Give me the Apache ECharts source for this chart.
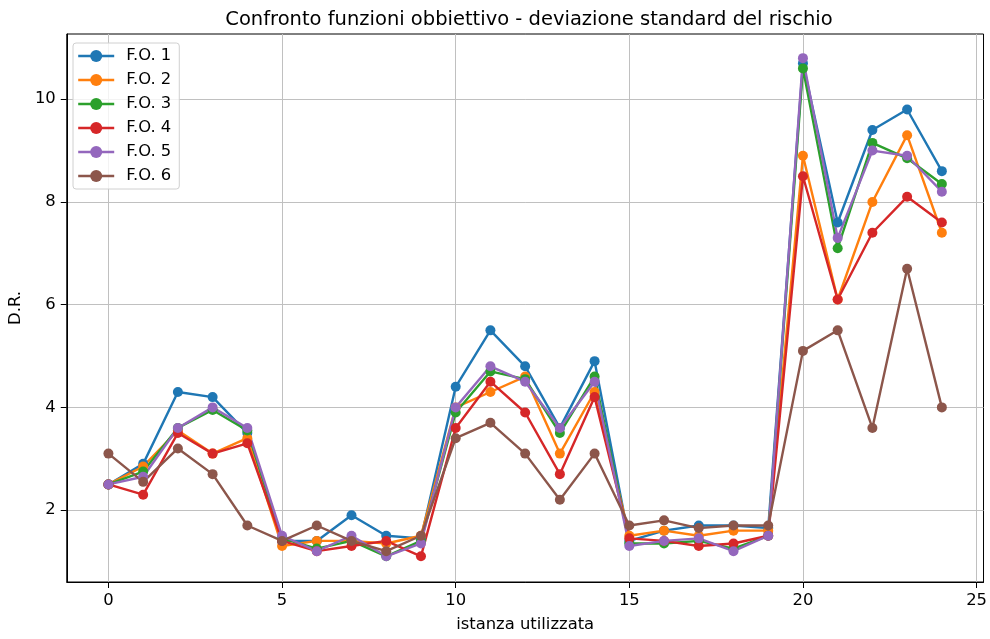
<!DOCTYPE html>
<html>
<head>
<meta charset="utf-8">
<script src="https://cdn.jsdelivr.net/npm/echarts@6/dist/echarts.min.js"></script>
<style>html,body{margin:0;padding:0;background:#fff;}#c{width:990px;height:639px;}</style>
</head>
<body>
<div id="c"></div>
<script>
const instances = [0,1,2,3,4,5,6,7,8,9,10,11,12,13,14,15,16,17,18,19,20,21,22,23,24];
const seriesNames = ['F.O. 1','F.O. 2','F.O. 3','F.O. 4','F.O. 5','F.O. 6'];
const fo1 = [2.5, 2.9, 4.3, 4.2, 3.5, 1.4, 1.4, 1.9, 1.5, 1.45, 4.4, 5.5, 4.8, 3.6, 4.9, 1.4, 1.6, 1.7, 1.7, 1.65, 10.7, 7.6, 9.4, 9.8, 8.6];
const fo2 = [2.5, 2.85, 3.55, 3.1, 3.4, 1.3, 1.4, 1.4, 1.35, 1.5, 4.0, 4.3, 4.6, 3.1, 4.3, 1.5, 1.6, 1.5, 1.6, 1.6, 8.9, 6.1, 8.0, 9.3, 7.4];
const fo3 = [2.5, 2.75, 3.6, 3.95, 3.55, 1.45, 1.25, 1.4, 1.1, 1.4, 3.9, 4.7, 4.55, 3.5, 4.6, 1.35, 1.35, 1.4, 1.25, 1.5, 10.6, 7.1, 9.15, 8.85, 8.35];
const fo4 = [2.5, 2.3, 3.5, 3.1, 3.3, 1.4, 1.2, 1.3, 1.4, 1.1, 3.6, 4.5, 3.9, 2.7, 4.2, 1.45, 1.4, 1.3, 1.35, 1.5, 8.5, 6.1, 7.4, 8.1, 7.6];
const fo5 = [2.5, 2.65, 3.6, 4.0, 3.6, 1.5, 1.2, 1.5, 1.1, 1.35, 4.0, 4.8, 4.5, 3.6, 4.5, 1.3, 1.4, 1.45, 1.2, 1.5, 10.8, 7.3, 9.0, 8.9, 8.2];
const fo6 = [3.1, 2.55, 3.2, 2.7, 1.7, 1.4, 1.7, 1.4, 1.2, 1.5, 3.4, 3.7, 3.1, 2.2, 3.1, 1.7, 1.8, 1.65, 1.7, 1.7, 5.1, 5.5, 3.6, 6.7, 4.0];
const xTicks = [0,5,10,15,20,25];
const yTicks = [2,4,6,8,10];
const colors = ['#1f77b4','#ff7f0e','#2ca02c','#d62728','#9467bd','#8c564b'];
const allSeries = [fo1, fo2, fo3, fo4, fo5, fo6];

const FONT = 'DejaVu Sans';
const FS = 16.4;
const chart = echarts.init(document.getElementById('c'), null, {renderer: 'canvas'});
chart.setOption({
  animation: false,
  backgroundColor: '#fff',
  color: colors,
  title: {
    text: 'Confronto funzioni obbiettivo - deviazione standard del rischio',
    left: 524, textAlign: 'center', top: 5,
    textStyle: {fontFamily: FONT, fontSize: 19.5, fontWeight: 'normal', color: '#000'}
  },
  legend: {
    orient: 'vertical', left: 73, top: 43,
    padding: [5, 8, 5, 4],
    itemWidth: 36, itemHeight: 15, itemGap: 8,
    backgroundColor: 'rgba(255,255,255,0.8)',
    borderColor: '#d0d0d0', borderWidth: 1, borderRadius: 3,
    lineStyle: {width: 2.4},
    textStyle: {fontFamily: FONT, fontSize: FS, color: '#000', padding: [0,0,0,7]},
    data: seriesNames
  },
  grid: {left: 66, right: 6, top: 34, bottom: 57, show: true, borderColor: '#000', borderWidth: 1, backgroundColor: 'transparent'},
  xAxis: {
    type: 'value', min: -1.2, max: 25.2,
    name: 'istanza utilizzata', nameLocation: 'middle', nameGap: 35,
    nameTextStyle: {fontFamily: FONT, fontSize: FS, color: '#000'},
    axisLine: {show: true, onZero: false, lineStyle: {color: '#000', width: 1}},
    axisTick: {show: true, length: 6, inside: false, customValues: xTicks, lineStyle: {color: '#000'}},
    axisLabel: {customValues: xTicks, margin: 11, fontFamily: FONT, fontSize: FS, color: '#000'},
    splitLine: {show: true, lineStyle: {color: '#c0c0c0', width: 1}}
  },
  yAxis: {
    type: 'value', min: 0.6, max: 11.27,
    name: 'D.R.', nameLocation: 'middle', nameGap: 41, nameRotate: 90,
    nameTextStyle: {fontFamily: FONT, fontSize: FS, color: '#000'},
    axisLine: {show: true, onZero: false, lineStyle: {color: '#000', width: 1}},
    axisTick: {show: true, length: 6, inside: false, customValues: yTicks, lineStyle: {color: '#000'}},
    axisLabel: {customValues: yTicks, margin: 11, fontFamily: FONT, fontSize: FS, color: '#000'},
    splitLine: {show: true, lineStyle: {color: '#c0c0c0', width: 1}}
  },
  series: allSeries.map((vals, i) => ({
    name: seriesNames[i],
    type: 'line',
    data: instances.map((x, j) => [x, vals[j]]),
    symbol: 'circle', symbolSize: 10,
    lineStyle: {width: 2.4, color: colors[i]},
    itemStyle: {color: colors[i]},
    emphasis: {disabled: true}
  }))
});
</script>
</body>
</html>
